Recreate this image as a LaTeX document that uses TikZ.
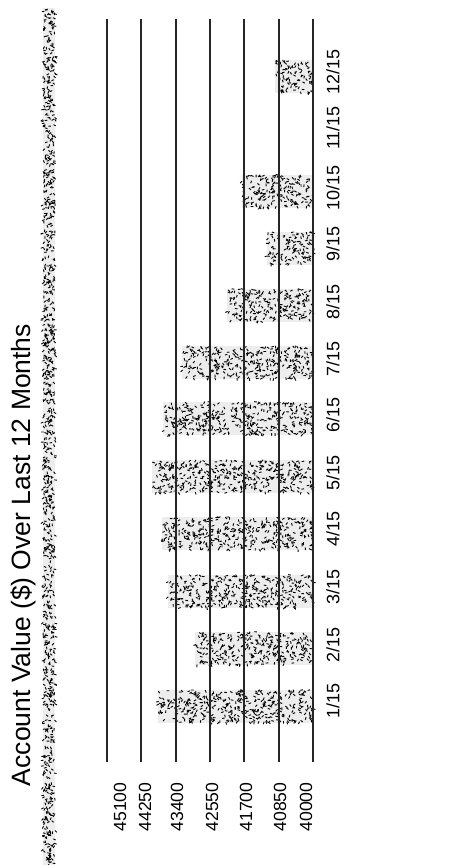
\documentclass[tikz,border=0pt]{standalone}
\usepackage{fontspec}
\setmainfont{Liberation Sans}
\begin{document}
\begin{tikzpicture}[x=1pt,y=-1pt,
  grid/.style={line width=1.1pt,black!85},
  speck/.style={line width=0.9pt,black},
  barbg/.style={fill=black!7,draw=none},
  monthlbl/.style={rotate=90,font=\fontsize{18}{18}\selectfont,inner sep=0pt},
  vallbl/.style={rotate=90,font=\fontsize{17.6}{17.6}\selectfont,inner sep=0pt},
  titlelbl/.style={rotate=90,font=\fontsize{26.5}{26.5}\selectfont,inner sep=0pt}]
\useasboundingbox (0,0) rectangle (449,865);
\pgfmathsetseed{7}
% speckled strip at left
\fill[black!7] (43,8) rectangle (55,865);
\foreach \k in {1,...,1050}{
  \pgfmathsetmacro{\px}{43+rnd*12}
  \pgfmathsetmacro{\py}{8+rnd*857}
  \pgfmathsetmacro{\an}{rnd*180}
  \draw[speck] (\px,\py) -- ++(\an:2.6);
}
% bars
\foreach \yc/\xl in {706/158,648/195,591/168,533/162,476/152,418/163,362/182,305/227,248/267,191/242,76/275}{
  \pgfmathsetmacro{\w}{313-\xl}
  \fill[barbg] (\xl,\yc-16.5) rectangle (313,\yc+16.5);
  \pgfmathtruncatemacro{\n}{\w*33/13}
  \foreach \k in {1,...,\n}{
    \pgfmathsetmacro{\px}{\xl+rnd*\w}
    \pgfmathsetmacro{\py}{\yc-16.5+rnd*33}
    \pgfmathsetmacro{\an}{rnd*180}
    \draw[speck] (\px,\py) -- ++(\an:2.6);
  }
}
% gridlines
\foreach \gx in {107,141,176,210,244,279,313}{
  \coordinate (t\gx) at (\gx,19);
  \coordinate (b\gx) at (\gx,762);
  \draw[grid] (t\gx) -- (b\gx);
}
% value labels
\node[vallbl] (v1) at (120,807) {45100};
\node[vallbl] (v2) at (145,807) {44250};
\node[vallbl] (v3) at (177,807) {43400};
\node[vallbl] (v4) at (212,807) {42550};
\node[vallbl] (v5) at (246,807) {41700};
\node[vallbl] (v6) at (280,807) {40850};
\node[vallbl] (v7) at (306,807) {40000};
% month labels
\node[monthlbl] (m1) at (333,701) {1/15};
\node[monthlbl] (m2) at (333,645) {2/15};
\node[monthlbl] (m3) at (333,587) {3/15};
\node[monthlbl] (m4) at (333,529) {4/15};
\node[monthlbl] (m5) at (333,473) {5/15};
\node[monthlbl] (m6) at (333,415) {6/15};
\node[monthlbl] (m7) at (333,359) {7/15};
\node[monthlbl] (m8) at (333,302) {8/15};
\node[monthlbl] (m9) at (333,244) {9/15};
\node[monthlbl] (m10) at (333,188) {10/15};
\node[monthlbl] (m11) at (333,128) {11/15};
\node[monthlbl] (m12) at (333,72) {12/15};
% title
\node[titlelbl] (title) at (23,555) {Account Value (\$) Over Last 12 Months};
\end{tikzpicture}
\end{document}
